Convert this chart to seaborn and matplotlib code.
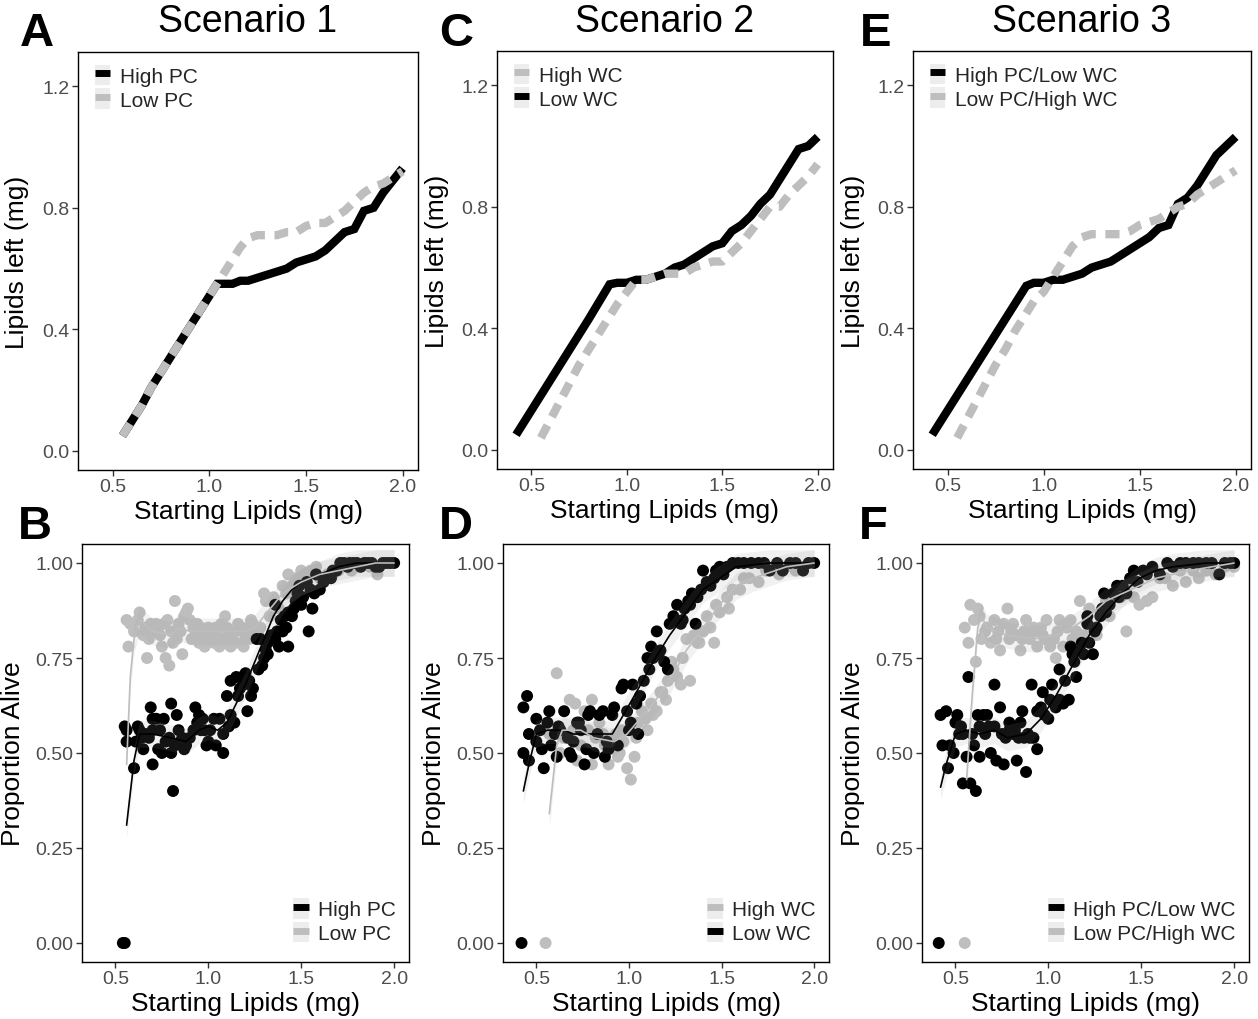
import numpy as np
import pandas as pd
import matplotlib
matplotlib.use("Agg")
import matplotlib.pyplot as plt
import seaborn as sns
from matplotlib.lines import Line2D
from matplotlib.patches import Patch
from matplotlib.legend_handler import HandlerTuple

# ---------------- data: top row (lipids left) ----------------
A_high_x = [0.55, 0.60, 0.65, 0.70, 0.75, 0.80, 0.85, 0.90, 0.95, 1.00, 1.04, 1.08, 1.12, 1.16, 1.20, 1.25,
            1.30, 1.35, 1.40, 1.45, 1.50, 1.55, 1.60, 1.65, 1.70, 1.75, 1.80, 1.85, 1.90, 1.95, 2.00]
A_high_y = [0.05, 0.10, 0.15, 0.21, 0.26, 0.31, 0.36, 0.41, 0.46, 0.51, 0.55, 0.55, 0.55, 0.56, 0.56, 0.57,
            0.58, 0.59, 0.60, 0.62, 0.63, 0.64, 0.66, 0.69, 0.72, 0.73, 0.79, 0.80, 0.85, 0.89, 0.93]
A_low_x = [0.55, 0.60, 0.65, 0.70, 0.75, 0.80, 0.85, 0.90, 0.95, 1.00, 1.04, 1.08, 1.12, 1.16, 1.20, 1.25,
           1.30, 1.35, 1.40, 1.45, 1.50, 1.55, 1.60, 1.65, 1.70, 1.75, 1.80, 1.85, 1.90, 1.95, 2.00]
A_low_y = [0.05, 0.10, 0.15, 0.21, 0.26, 0.31, 0.36, 0.41, 0.46, 0.51, 0.55, 0.59, 0.63, 0.67, 0.70, 0.71,
           0.71, 0.71, 0.72, 0.72, 0.74, 0.75, 0.75, 0.77, 0.79, 0.82, 0.85, 0.87, 0.88, 0.90, 0.92]

C_low_x = [0.42, 0.50, 0.60, 0.70, 0.80, 0.91, 0.95, 1.00, 1.05, 1.10, 1.15, 1.20, 1.25, 1.30,
           1.35, 1.40, 1.45, 1.50, 1.55, 1.60, 1.65, 1.70, 1.75, 1.80, 1.85, 1.90, 1.95, 2.00]
C_low_y = [0.05, 0.13, 0.23, 0.33, 0.43, 0.545, 0.55, 0.55, 0.56, 0.56, 0.57, 0.58, 0.60, 0.61,
           0.63, 0.65, 0.67, 0.68, 0.72, 0.74, 0.77, 0.81, 0.84, 0.89, 0.94, 0.99, 1.00, 1.03]
C_high_x = [0.55, 0.60, 0.65, 0.70, 0.75, 0.80, 0.85, 0.90, 0.95, 1.00, 1.05, 1.10, 1.15, 1.20, 1.25,
            1.30, 1.35, 1.40, 1.45, 1.50, 1.55, 1.60, 1.65, 1.70, 1.75, 1.80, 1.85, 1.90, 1.95, 2.00]
C_high_y = [0.04, 0.10, 0.16, 0.22, 0.28, 0.33, 0.38, 0.43, 0.48, 0.52, 0.56, 0.56, 0.57, 0.58, 0.58,
            0.58, 0.60, 0.61, 0.62, 0.62, 0.65, 0.68, 0.72, 0.76, 0.80, 0.80, 0.84, 0.87, 0.90, 0.94]

E_high_x = [0.42, 0.50, 0.60, 0.70, 0.80, 0.91, 0.95, 1.00, 1.05, 1.10, 1.15, 1.20, 1.25, 1.30,
            1.35, 1.40, 1.45, 1.50, 1.55, 1.60, 1.65, 1.70, 1.75, 1.80, 1.85, 1.90, 1.95, 2.00]
E_high_y = [0.05, 0.13, 0.23, 0.33, 0.43, 0.54, 0.55, 0.55, 0.56, 0.56, 0.57, 0.58, 0.60, 0.61,
            0.62, 0.64, 0.66, 0.68, 0.70, 0.73, 0.74, 0.81, 0.83, 0.87, 0.92, 0.97, 1.00, 1.03]
E_low_x = [0.55, 0.60, 0.65, 0.70, 0.75, 0.80, 0.85, 0.90, 0.95, 1.00, 1.05, 1.10, 1.15, 1.20, 1.25,
           1.30, 1.35, 1.40, 1.45, 1.50, 1.55, 1.60, 1.65, 1.70, 1.75, 1.80, 1.85, 1.90, 1.95, 2.00]
E_low_y = [0.04, 0.10, 0.16, 0.22, 0.28, 0.33, 0.39, 0.44, 0.49, 0.52, 0.57, 0.62, 0.67, 0.70, 0.71,
           0.71, 0.71, 0.71, 0.72, 0.74, 0.75, 0.76, 0.78, 0.80, 0.81, 0.84, 0.86, 0.88, 0.90, 0.92]

# ---------------- data: bottom row (proportion alive) ----------------
B_high_x = [0.54, 0.55, 0.55, 0.56, 0.56, 0.60, 0.61, 0.62, 0.63, 0.64,
            0.65, 0.66, 0.68, 0.69, 0.70, 0.70, 0.70, 0.72, 0.73, 0.74,
            0.75, 0.76, 0.77, 0.79, 0.80, 0.80, 0.81, 0.82, 0.83, 0.84,
            0.85, 0.86, 0.87, 0.88, 0.90, 0.92, 0.93, 0.94, 0.95, 0.96,
            0.97, 0.98, 0.99, 1.00, 1.01, 1.03, 1.04, 1.06, 1.08, 1.08,
            1.10, 1.11, 1.12, 1.12, 1.14, 1.15, 1.16, 1.17, 1.18, 1.19,
            1.20, 1.21, 1.22, 1.23, 1.24, 1.26, 1.27, 1.28, 1.29, 1.30,
            1.31, 1.32, 1.32, 1.33, 1.34, 1.36, 1.36, 1.37, 1.38, 1.39,
            1.40, 1.41, 1.42, 1.43, 1.43, 1.45, 1.46, 1.47, 1.48, 1.49,
            1.50, 1.51, 1.53, 1.54, 1.55, 1.56, 1.57, 1.58, 1.60, 1.62,
            1.64, 1.66, 1.67, 1.69, 1.71, 1.73, 1.75, 1.76, 1.78, 1.80,
            1.82, 1.84, 1.86, 1.88, 1.90, 1.92, 1.94, 1.96, 1.98, 2.00]
B_high_y = [0.00, 0.00, 0.57, 0.53, 0.56, 0.46, 0.53, 0.57, 0.56, 0.54,
            0.51, 0.55, 0.54, 0.62, 0.59, 0.56, 0.47, 0.59, 0.51, 0.56,
            0.50, 0.59, 0.53, 0.54, 0.63, 0.50, 0.40, 0.52, 0.60, 0.56,
            0.53, 0.54, 0.51, 0.52, 0.54, 0.56, 0.62, 0.58, 0.60, 0.56,
            0.59, 0.56, 0.52, 0.53, 0.56, 0.59, 0.52, 0.59, 0.50, 0.55,
            0.65, 0.57, 0.60, 0.69, 0.58, 0.70, 0.65, 0.67, 0.70, 0.68,
            0.71, 0.61, 0.69, 0.65, 0.67, 0.80, 0.72, 0.80, 0.73, 0.75,
            0.77, 0.79, 0.76, 0.80, 0.81, 0.89, 0.80, 0.82, 0.78, 0.85,
            0.82, 0.86, 0.83, 0.78, 0.87, 0.86, 0.88, 0.90, 0.92, 0.94,
            0.89, 0.91, 0.95, 0.82, 0.93, 0.88, 0.92, 0.97, 0.93, 0.95,
            0.96, 0.96, 0.98, 0.98, 1.00, 1.00, 0.99, 1.00, 1.00, 1.00,
            0.99, 1.00, 1.00, 1.00, 0.99, 0.99, 1.00, 1.00, 1.00, 1.00]
B_low_x = [0.56, 0.57, 0.58, 0.60, 0.62, 0.63, 0.65, 0.66, 0.67, 0.69,
           0.70, 0.72, 0.73, 0.75, 0.77, 0.78, 0.79, 0.80, 0.81, 0.82,
           0.83, 0.84, 0.85, 0.86, 0.87, 0.88, 0.89, 0.90, 0.92, 0.93,
           0.94, 0.95, 0.97, 0.98, 0.99, 1.00, 1.01, 1.03, 1.04, 1.06,
           1.08, 1.09, 1.11, 1.12, 1.14, 1.16, 1.18, 1.20, 1.21, 1.23,
           1.25, 1.27, 1.28, 1.30, 1.31, 1.33, 1.35, 1.37, 1.38, 1.40,
           1.42, 1.43, 1.45, 1.47, 1.48, 1.50, 1.52, 1.53, 1.55, 1.58,
           1.60, 1.62, 1.64, 1.67, 1.70, 1.73, 1.77, 1.80, 1.84, 1.87,
           1.91, 1.94, 1.98,
           0.68, 0.74, 0.76, 0.91, 0.96, 1.02, 1.05, 1.07, 1.10, 1.13,
           1.15, 1.17, 1.19, 1.22, 1.24]
B_low_y = [0.85, 0.78, 0.84, 0.82, 0.85, 0.87, 0.81, 0.83, 0.75, 0.84,
           0.82, 0.84, 0.83, 0.78, 0.75, 0.85, 0.73, 0.82, 0.79, 0.90,
           0.80, 0.84, 0.82, 0.76, 0.86, 0.87, 0.88, 0.85, 0.83, 0.81,
           0.84, 0.79, 0.82, 0.78, 0.81, 0.83, 0.82, 0.79, 0.83, 0.78,
           0.80, 0.86, 0.81, 0.78, 0.82, 0.84, 0.82, 0.80, 0.83, 0.85,
           0.82, 0.81, 0.83, 0.92, 0.90, 0.86, 0.91, 0.89, 0.88, 0.94,
           0.92, 0.97, 0.94, 0.96, 0.95, 0.98, 0.96, 0.97, 0.98, 0.99,
           0.96, 0.95, 0.97, 0.97, 0.98, 0.99, 0.98, 0.99, 1.00, 0.99,
           0.97, 1.00, 1.00,
           0.80, 0.81, 0.84, 0.80, 0.83, 0.80, 0.81, 0.84, 0.83, 0.80,
           0.79, 0.83, 0.78, 0.80, 0.84]
B_high_fit_x = [0.56, 0.60, 0.63, 0.70, 0.80, 0.88, 0.95, 1.00, 1.05, 1.10, 1.15, 1.20,
                1.25, 1.30, 1.35, 1.40, 1.45, 1.50, 1.60, 1.70, 1.80, 1.90, 2.00]
B_high_fit_y = [0.31, 0.48, 0.55, 0.55, 0.54, 0.53, 0.56, 0.57, 0.56, 0.58, 0.63, 0.68,
                0.74, 0.80, 0.86, 0.90, 0.93, 0.95, 0.97, 0.99, 1.00, 1.00, 1.00]
B_low_fit_x = [0.56, 0.58, 0.60, 0.63, 0.70, 0.80, 0.84, 0.90, 1.00, 1.10, 1.20,
               1.25, 1.30, 1.35, 1.40, 1.50, 1.60, 1.70, 1.80, 1.90, 2.00]
B_low_fit_y = [0.47, 0.70, 0.80, 0.85, 0.82, 0.81, 0.83, 0.82, 0.82, 0.82, 0.82,
               0.83, 0.86, 0.89, 0.92, 0.95, 0.97, 0.98, 0.99, 1.00, 1.00]

D_low_x = [0.42, 0.43, 0.45, 0.43, 0.46, 0.46, 0.50, 0.52, 0.50, 0.53,
           0.54, 0.56, 0.57, 0.60, 0.61, 0.62, 0.65, 0.67, 0.69, 0.70,
           0.72, 0.74, 0.76, 0.77, 0.79, 0.81, 0.83, 0.86, 0.87, 0.89,
           0.92, 0.94, 0.96, 0.97, 0.99, 1.00, 1.02, 1.04, 1.05, 1.06,
           1.08, 1.10, 1.12, 1.13, 1.15, 1.17, 1.19, 1.21, 1.22, 1.25,
           1.26, 1.29, 1.30, 1.32, 1.34, 1.36, 1.37, 1.39, 1.40, 1.42,
           1.46, 1.47, 1.49, 1.51, 1.53, 1.56, 1.59, 1.62, 1.66, 1.70,
           1.73, 1.76, 1.80, 1.83, 1.87, 1.90, 1.94, 1.97, 2.00,
           0.58, 0.63, 0.68, 0.73, 0.78, 0.84, 0.88, 0.91, 1.01, 1.11,
           1.16, 1.24, 1.28, 1.33, 1.44]
D_low_y = [0.00, 0.62, 0.65, 0.50, 0.48, 0.55, 0.59, 0.56, 0.53, 0.51,
           0.46, 0.58, 0.61, 0.55, 0.49, 0.57, 0.61, 0.54, 0.49, 0.53,
           0.58, 0.56, 0.47, 0.51, 0.61, 0.50, 0.55, 0.61, 0.49, 0.51,
           0.62, 0.52, 0.67, 0.68, 0.61, 0.56, 0.68, 0.63, 0.55, 0.65,
           0.69, 0.75, 0.78, 0.75, 0.82, 0.77, 0.74, 0.72, 0.84, 0.85,
           0.89, 0.85, 0.88, 0.90, 0.92, 0.84, 0.91, 0.93, 0.98, 0.95,
           0.96, 0.98, 0.99, 0.97, 0.99, 1.00, 1.00, 1.00, 1.00, 1.00,
           1.00, 0.98, 1.00, 0.98, 1.00, 1.00, 0.98, 1.00, 1.00,
           0.52, 0.56, 0.50, 0.58, 0.60, 0.60, 0.53, 0.60, 0.58, 0.72,
           0.76, 0.86, 0.84, 0.89, 0.94]
D_high_x = [0.55, 0.61, 0.65, 0.68, 0.70, 0.71, 0.72, 0.76, 0.78, 0.80,
            0.80, 0.82, 0.84, 0.87, 0.89, 0.91, 0.93, 0.94, 0.96, 0.97,
            0.99, 1.01, 1.03, 1.04, 1.05, 1.07, 1.10, 1.12, 1.13, 1.15,
            1.17, 1.20, 1.21, 1.24, 1.26, 1.28, 1.29, 1.31, 1.33, 1.35,
            1.37, 1.38, 1.40, 1.42, 1.44, 1.46, 1.47, 1.49, 1.53, 1.54,
            1.56, 1.60, 1.62, 1.65, 1.70, 1.74, 1.78, 1.81, 1.85, 1.90,
            1.94, 1.99, 0.57, 0.63, 0.74, 0.86, 0.95, 1.09, 1.18, 1.23]
D_high_y = [0.00, 0.71, 0.54, 0.64, 0.56, 0.63, 0.48, 0.61, 0.56, 0.64,
            0.47, 0.54, 0.58, 0.52, 0.47, 0.54, 0.55, 0.49, 0.56, 0.53,
            0.46, 0.43, 0.49, 0.54, 0.58, 0.61, 0.56, 0.63, 0.60, 0.61,
            0.66, 0.64, 0.69, 0.72, 0.70, 0.68, 0.75, 0.80, 0.69, 0.81,
            0.79, 0.79, 0.82, 0.86, 0.83, 0.79, 0.89, 0.87, 0.91, 0.88,
            0.93, 0.93, 0.96, 0.96, 0.95, 0.98, 0.99, 0.97, 0.99, 0.98,
            0.99, 1.00, 0.55, 0.50, 0.52, 0.55, 0.50, 0.59, 0.66, 0.74]
D_low_fit_x = [0.43, 0.46, 0.50, 0.56, 0.65, 0.70, 0.85, 0.91, 0.97, 1.04, 1.13, 1.22,
               1.31, 1.40, 1.49, 1.58, 1.76, 2.00]
D_low_fit_y = [0.40, 0.47, 0.55, 0.56, 0.56, 0.55, 0.55, 0.55, 0.60, 0.66, 0.74, 0.81,
               0.87, 0.93, 0.96, 0.99, 1.00, 1.00]
D_high_fit_x = [0.57, 0.61, 0.64, 0.74, 0.81, 0.92, 0.99, 1.06, 1.13, 1.22, 1.31, 1.40,
                1.49, 1.58, 1.67, 1.85, 2.00]
D_high_fit_y = [0.34, 0.52, 0.56, 0.56, 0.54, 0.53, 0.55, 0.59, 0.63, 0.69, 0.77, 0.83,
                0.89, 0.94, 0.96, 0.99, 1.00]

F_high_x = [0.41, 0.42, 0.45, 0.43, 0.46, 0.47, 0.49, 0.50, 0.51, 0.52,
            0.54, 0.54, 0.56, 0.57, 0.58, 0.60, 0.61, 0.62, 0.63, 0.63,
            0.65, 0.66, 0.67, 0.69, 0.71, 0.71, 0.72, 0.74, 0.76, 0.77,
            0.79, 0.79, 0.81, 0.83, 0.85, 0.86, 0.87, 0.88, 0.90, 0.92,
            0.94, 0.91, 0.94, 0.96, 0.97, 1.00, 1.01, 1.02, 1.04, 1.06,
            1.06, 1.09, 1.11, 1.12, 1.13, 1.15, 1.17, 1.19, 1.21, 1.21,
            1.22, 1.24, 1.26, 1.28, 1.30, 1.31, 1.33, 1.35, 1.37, 1.40,
            1.42, 1.44, 1.46, 1.48, 1.51, 1.53, 1.56, 1.60, 1.64, 1.67,
            1.71, 1.74, 1.78, 1.81, 1.85, 1.88, 1.92, 1.95, 1.98, 2.00,
            0.53, 0.59, 0.68, 0.75, 0.82, 0.84, 0.89, 0.98, 1.03, 1.08,
            1.14, 1.18, 1.25, 1.29, 1.38]
F_high_y = [0.00, 0.60, 0.61, 0.52, 0.46, 0.52, 0.50, 0.58, 0.60, 0.55,
            0.55, 0.42, 0.49, 0.70, 0.42, 0.52, 0.40, 0.60, 0.57, 0.49,
            0.60, 0.55, 0.60, 0.50, 0.57, 0.68, 0.48, 0.62, 0.47, 0.54,
            0.58, 0.56, 0.55, 0.48, 0.58, 0.61, 0.54, 0.45, 0.54, 0.54,
            0.51, 0.68, 0.61, 0.62, 0.66, 0.59, 0.64, 0.68, 0.62, 0.64,
            0.72, 0.69, 0.64, 0.78, 0.76, 0.70, 0.77, 0.76, 0.86, 0.84,
            0.79, 0.76, 0.83, 0.86, 0.92, 0.87, 0.89, 0.92, 0.94, 0.94,
            0.92, 0.96, 0.98, 0.95, 0.98, 0.97, 0.99, 0.97, 1.00, 0.99,
            1.00, 1.00, 1.00, 1.00, 1.00, 1.00, 0.97, 1.00, 1.00, 1.00,
            0.57, 0.55, 0.57, 0.55, 0.56, 0.54, 0.55, 0.60, 0.63, 0.63,
            0.74, 0.79, 0.82, 0.88, 0.91]
F_low_x = [0.55, 0.55, 0.57, 0.58, 0.60, 0.61, 0.62, 0.63, 0.64, 0.67,
           0.69, 0.71, 0.72, 0.74, 0.76, 0.78, 0.79, 0.81, 0.83, 0.85,
           0.87, 0.88, 0.90, 0.92, 0.94, 0.96, 0.97, 0.99, 1.01, 1.03,
           1.04, 1.06, 1.08, 1.10, 1.12, 1.13, 1.17, 1.19, 1.21, 1.22,
           1.24, 1.26, 1.28, 1.31, 1.33, 1.37, 1.39, 1.42, 1.44, 1.46,
           1.49, 1.53, 1.56, 1.60, 1.63, 1.67, 1.71, 1.74, 1.78, 1.81,
           1.85, 1.90, 1.95, 2.00, 0.66, 0.73, 0.80, 0.86, 0.93, 0.98, 1.05, 1.15]
F_low_y = [0.00, 0.83, 0.79, 0.89, 0.85, 0.74, 0.88, 0.86, 0.80, 0.83,
           0.79, 0.85, 0.80, 0.77, 0.84, 0.88, 0.80, 0.84, 0.81, 0.77,
           0.82, 0.85, 0.80, 0.83, 0.78, 0.83, 0.81, 0.85, 0.78, 0.80,
           0.75, 0.85, 0.78, 0.83, 0.85, 0.80, 0.90, 0.81, 0.84, 0.88,
           0.83, 0.81, 0.87, 0.90, 0.86, 0.92, 0.91, 0.82, 0.95, 0.91,
           0.89, 0.90, 0.91, 0.96, 0.96, 0.94, 0.98, 0.95, 0.98, 0.96,
           0.98, 0.97, 0.99, 0.99, 0.82, 0.82, 0.82, 0.80, 0.82, 0.80, 0.82, 0.82]
F_high_fit_x = [0.42, 0.45, 0.50, 0.56, 0.63, 0.71, 0.78, 0.88, 0.96, 1.04, 1.13, 1.22,
                1.31, 1.40, 1.49, 1.58, 1.67, 1.85, 2.00]
F_high_fit_y = [0.41, 0.47, 0.55, 0.56, 0.55, 0.56, 0.54, 0.55, 0.59, 0.65, 0.73, 0.81,
                0.87, 0.92, 0.96, 0.98, 0.99, 1.00, 1.00]
F_low_fit_x = [0.56, 0.59, 0.62, 0.64, 0.67, 0.78, 0.92, 1.04, 1.13, 1.22, 1.31, 1.40,
               1.49, 1.58, 1.76, 2.00]
F_low_fit_y = [0.43, 0.65, 0.83, 0.86, 0.83, 0.81, 0.80, 0.81, 0.83, 0.86, 0.90, 0.92,
               0.94, 0.96, 0.98, 1.00]

titles = ["Scenario 1", "Scenario 2", "Scenario 3"]
letters_top = ["A", "C", "E"]
letters_bottom = ["B", "D", "F"]
x_ticks = [0.5, 1.0, 1.5, 2.0]
x_ticklabels = ["0.5", "1.0", "1.5", "2.0"]
top_yticks = [0.0, 0.4, 0.8, 1.2]
top_yticklabels = ["0.0", "0.4", "0.8", "1.2"]
bot_yticks = [0.0, 0.25, 0.5, 0.75, 1.0]
bot_yticklabels = ["0.00", "0.25", "0.50", "0.75", "1.00"]

# ---------------- style ----------------
sns.set_theme(style="white")
plt.rcParams['font.family'] = ['Liberation Sans', 'DejaVu Sans']

BLACK = "#000000"
GREY = "#BEBEBE"
KEYBG = "#EDEDED"
TICKCOL = "#4D4D4D"

W, H = 1258, 1020
fig = plt.figure(figsize=(W / 100, H / 100), dpi=100)


def px_axes(l, t, r, b):
    return fig.add_axes([l / W, 1 - b / H, (r - l) / W, (b - t) / H])


def style_axes(ax, yticks, yticklabels, ylim, ylabel, ylabel_x):
    ax.set_xlim(0.32, 2.08)
    ax.set_ylim(*ylim)
    ax.set_xticks(x_ticks)
    ax.set_xticklabels(x_ticklabels)
    ax.set_yticks(yticks)
    ax.set_yticklabels(yticklabels)
    ax.tick_params(direction="out", length=4, width=1, color="#333333",
                   labelsize=14, labelcolor=TICKCOL, pad=2,
                   bottom=True, left=True)
    for s in ax.spines.values():
        s.set_color("black")
        s.set_linewidth(1.0)
    ax.set_xlabel("Starting Lipids (mg)", fontsize=19, color="black", labelpad=3)
    ax.set_ylabel(ylabel, fontsize=19, color="black")
    ax.yaxis.set_label_coords(ylabel_x, 0.5)
    ax.grid(False)


def key(color):
    return (Patch(facecolor=KEYBG, edgecolor="none"),
            Line2D([0], [0], color=color, lw=5, solid_capstyle="butt"))


def add_legend(ax, entries, loc, anchor):
    handles = [key(c) for _, c in entries]
    labels = [lab for lab, _ in entries]
    ax.legend(handles, labels, loc=loc, bbox_to_anchor=anchor, frameon=False,
              fontsize=15, handlelength=0.75, handleheight=1.15, handletextpad=0.45,
              labelspacing=0.12, borderaxespad=0.0,
              handler_map={tuple: HandlerTuple(ndivide=1, pad=0)})


DASH = (0, (1.7, 1.15))


def draw_line(ax, x, y, color, dashed):
    df = pd.DataFrame({"x": x, "y": y})
    sns.lineplot(data=df, x="x", y="y", ax=ax, color=color, lw=6,
                 estimator=None, sort=False, legend=False,
                 linestyle=DASH if dashed else "-", solid_capstyle="butt",
                 dash_capstyle="butt", solid_joinstyle="miter")


def draw_points(ax, x, y, color):
    df = pd.DataFrame({"x": x, "y": y})
    sns.scatterplot(data=df, x="x", y="y", ax=ax, color=color, s=74,
                    edgecolor="none", linewidth=0, legend=False, zorder=2)


RIBBON_HALF = 0.035


def draw_fit(ax, x, y, color):
    xa, ya = np.asarray(x), np.asarray(y)
    ax.fill_between(xa, ya - RIBBON_HALF, ya + RIBBON_HALF, color="#999999",
                    alpha=0.13, lw=0, zorder=3)
    df = pd.DataFrame({"x": x, "y": y})
    sns.lineplot(data=df, x="x", y="y", ax=ax, color=color, lw=1.2,
                 estimator=None, sort=False, legend=False, zorder=4)


# ---------------- top row ----------------
top_boxes = [(78, 53, 418, 471), (497, 52, 833, 470), (913, 52, 1251, 470)]
top_series = [
    [(A_high_x, A_high_y, BLACK, False), (A_low_x, A_low_y, GREY, True)],
    [(C_low_x, C_low_y, BLACK, False), (C_high_x, C_high_y, GREY, True)],
    [(E_high_x, E_high_y, BLACK, False), (E_low_x, E_low_y, GREY, True)],
]
top_legends = [
    [("High PC", BLACK), ("Low PC", GREY)],
    [("High WC", GREY), ("Low WC", BLACK)],
    [("High PC/Low WC", BLACK), ("Low PC/High WC", GREY)],
]
for i in range(3):
    ax = px_axes(*top_boxes[i])
    for x, y, c, d in top_series[i]:
        draw_line(ax, x, y, c, d)
    style_axes(ax, top_yticks, top_yticklabels, (-0.0625, 1.3125),
               "Lipids left (mg)", -0.143)
    add_legend(ax, top_legends[i], "upper left", (0.025, 0.99))

# ---------------- bottom row ----------------
bot_boxes = [(82, 545, 409, 963), (503, 545, 829, 963), (922, 545, 1249, 963)]
bot_points = [
    [(B_low_x, B_low_y, GREY), (B_high_x, B_high_y, BLACK)],
    [(D_high_x, D_high_y, GREY), (D_low_x, D_low_y, BLACK)],
    [(F_low_x, F_low_y, GREY), (F_high_x, F_high_y, BLACK)],
]
bot_fits = [
    [(B_high_fit_x, B_high_fit_y, BLACK), (B_low_fit_x, B_low_fit_y, GREY)],
    [(D_low_fit_x, D_low_fit_y, BLACK), (D_high_fit_x, D_high_fit_y, GREY)],
    [(F_high_fit_x, F_high_fit_y, BLACK), (F_low_fit_x, F_low_fit_y, GREY)],
]
bot_legends = [
    [("High PC", BLACK), ("Low PC", GREY)],
    [("High WC", GREY), ("Low WC", BLACK)],
    [("High PC/Low WC", BLACK), ("Low PC/High WC", GREY)],
]
for i in range(3):
    ax = px_axes(*bot_boxes[i])
    for x, y, c in bot_points[i]:
        draw_points(ax, x, y, c)
    for x, y, c in bot_fits[i]:
        draw_fit(ax, x, y, c)
    style_axes(ax, bot_yticks, bot_yticklabels, (-0.05, 1.05),
               "Proportion Alive", -0.175)
    add_legend(ax, bot_legends[i], "lower right", (0.985, 0.025))

# ---------------- titles & panel letters ----------------
title_x = [248, 665, 1082]
for tx, t in zip(title_x, titles):
    fig.text(tx / W, 1 - 22 / H, t, ha="center", va="center", fontsize=27, color="black")
letter_x_top = [37, 456, 876]
letter_x_bot = [35, 456, 873]
for lx, l in zip(letter_x_top, letters_top):
    fig.text(lx / W, 1 - 34 / H, l, ha="center", va="center", fontsize=34,
             fontweight="bold", color="black")
for lx, l in zip(letter_x_bot, letters_bottom):
    fig.text(lx / W, 1 - 527 / H, l, ha="center", va="center", fontsize=34,
             fontweight="bold", color="black")

fig.savefig("out.png", dpi=100, facecolor="white")
